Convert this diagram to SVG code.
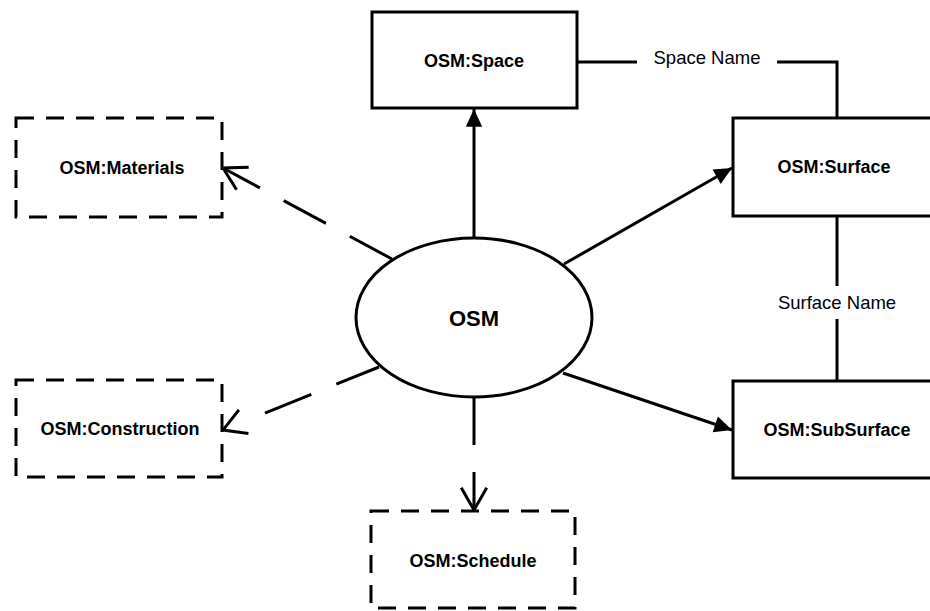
<svg xmlns="http://www.w3.org/2000/svg" width="930" height="611" viewBox="0 0 930 611">
<defs>
<marker id="filled" markerUnits="userSpaceOnUse" markerWidth="20" markerHeight="20" viewBox="-16 -8 17 16" refX="0" refY="0" orient="auto" overflow="visible">
<path d="M0,0 L-15,-7 L-15,7 Z" fill="#000"/>
</marker>
<marker id="open" markerUnits="userSpaceOnUse" markerWidth="30" markerHeight="30" viewBox="-25 -15 27 30" refX="0" refY="0" orient="auto" overflow="visible">
<path d="M-21,-12 L0,0 L-21,12" fill="none" stroke="#000" stroke-width="3" stroke-linecap="square"/>
</marker>
</defs>
<style>
.box{fill:#fff;stroke:#000;stroke-width:3}
.dbox{fill:#fff;stroke:#000;stroke-width:3;stroke-dasharray:18 12}
.t{font-family:"Liberation Sans",Arial,sans-serif;font-weight:bold;font-size:18px;text-anchor:middle}
.lbl{font-family:"Liberation Sans",Arial,sans-serif;font-size:18.5px;text-anchor:middle}
.solid{fill:none;stroke:#000;stroke-width:3;marker-end:url(#filled)}
.dash{fill:none;stroke:#000;stroke-width:3;stroke-dasharray:48 27;marker-end:url(#open)}
.plain{fill:none;stroke:#000;stroke-width:3}
</style>
<rect width="930" height="611" fill="#fff"/>
<g id="connectors">
<line class="solid" x1="474" y1="238" x2="474" y2="109"/>
<line class="solid" x1="564" y1="264" x2="732" y2="168"/>
<line class="solid" x1="563" y1="373" x2="732" y2="430"/>
<line class="dash" x1="392" y1="259" x2="223" y2="168"/>
<line class="dash" x1="379" y1="367" x2="223" y2="430" style="stroke-dasharray:46 27 50 60"/>
<line class="dash" x1="474" y1="397" x2="474" y2="510"/>
<polyline class="plain" points="577,62 637,62"/>
<polyline class="plain" points="777,62 837,62 837,118"/>
<line class="plain" x1="837" y1="217" x2="837" y2="286"/>
<line class="plain" x1="837" y1="319" x2="837" y2="381"/>
<text class="lbl" x="707" y="64">Space Name</text>
<text class="lbl" x="837" y="309">Surface Name</text>
</g>
<g id="osm">
<ellipse cx="474" cy="317.5" rx="118" ry="79.5" fill="#fff" stroke="#000" stroke-width="3"/>
<text class="t" x="474" y="326" style="font-size:22px">OSM</text>
</g>
<g id="space">
<rect class="box" x="372" y="12" width="205" height="96"/>
<text class="t" x="474" y="67">OSM:Space</text>
</g>
<g id="surface">
<rect class="box" x="733" y="118" width="200" height="98"/>
<text class="t" x="834" y="173">OSM:Surface</text>
</g>
<g id="subsurface">
<rect class="box" x="733" y="381" width="200" height="97"/>
<text class="t" x="837" y="436">OSM:SubSurface</text>
</g>
<g id="materials">
<rect class="dbox" x="16" y="118" width="206" height="99"/>
<text class="t" x="122" y="174">OSM:Materials</text>
</g>
<g id="construction">
<rect class="dbox" x="16" y="380" width="206" height="97"/>
<text class="t" x="120" y="435">OSM:Construction</text>
</g>
<g id="schedule">
<rect class="dbox" x="371" y="511" width="204" height="97"/>
<text class="t" x="473" y="567">OSM:Schedule</text>
</g>
</svg>
